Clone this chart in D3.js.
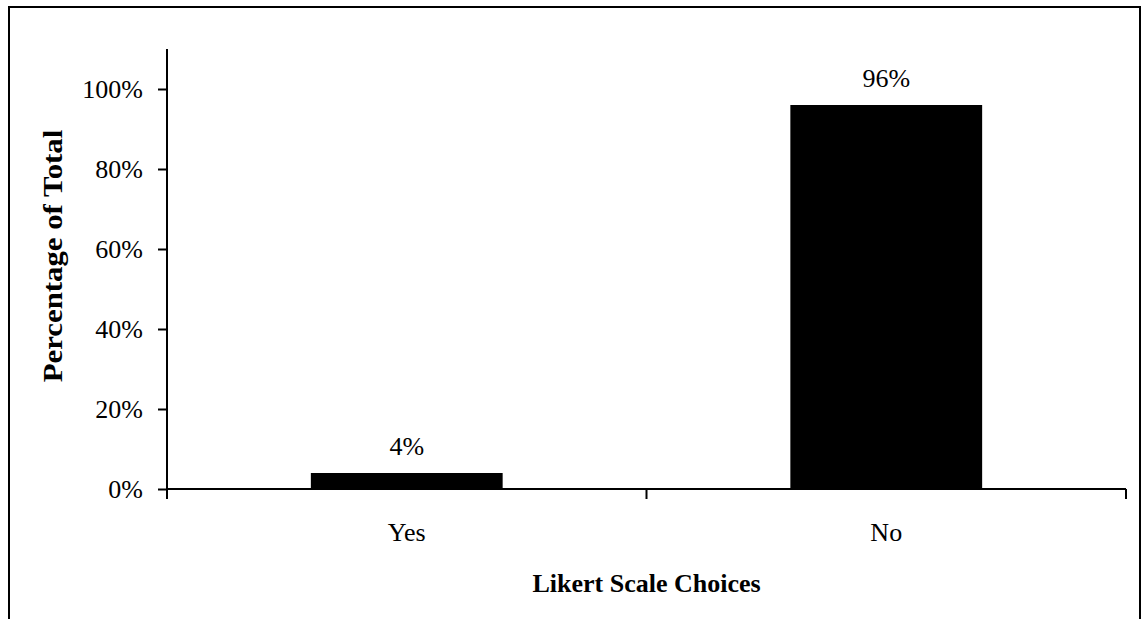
<!DOCTYPE html>
<html>
<head>
<meta charset="utf-8">
<script src="https://cdn.jsdelivr.net/npm/d3@7"></script>
<style>
  html, body { margin: 0; padding: 0; background: #fff; }
  svg { display: block; font-family: "Liberation Serif", "Times New Roman", serif; }
</style>
</head>
<body>
<svg id="chart" width="1141" height="619"></svg>
<script>
// Survey responses, share of total
const categories = ["Yes", "No"];
const percentages = [4, 96];
const yTicks = [0, 20, 40, 60, 80, 100];

const svg = d3.select("#chart");
const plot = { left: 167, right: 1126, top: 49, bottom: 489 };

// Outer frame
svg.append("rect")
  .attr("x", 9).attr("y", 7)
  .attr("width", 1131).attr("height", 640)
  .attr("fill", "none").attr("stroke", "#000").attr("stroke-width", 2);

const x = d3.scaleBand()
  .domain(categories)
  .range([plot.left, plot.right])
  .paddingInner(0.6)
  .paddingOuter(0.3);

const y = d3.scaleLinear()
  .domain([0, 110])
  .range([plot.bottom, plot.top]);

// Bars
svg.append("g").selectAll("rect")
  .data(categories)
  .join("rect")
  .attr("x", d => x(d))
  .attr("width", x.bandwidth())
  .attr("y", (d, i) => y(percentages[i]))
  .attr("height", (d, i) => y(0) - y(percentages[i]))
  .attr("fill", "#000");

// Value labels
svg.append("g").selectAll("text")
  .data(categories)
  .join("text")
  .attr("x", d => x(d) + x.bandwidth() / 2)
  .attr("y", (d, i) => y(percentages[i]) - 18)
  .attr("text-anchor", "middle")
  .attr("font-size", 26)
  .attr("fill", "#000")
  .text((d, i) => percentages[i] + "%");

// Y axis
const yAxis = d3.axisLeft(y)
  .tickValues(yTicks)
  .tickFormat(d => d + "%")
  .tickSize(9)
  .tickPadding(15)
  .tickSizeOuter(0);

const gy = svg.append("g")
  .attr("transform", `translate(${plot.left},0)`)
  .call(yAxis);
gy.select(".domain").attr("stroke", "#000").attr("stroke-width", 2)
  .attr("d", `M0,${plot.bottom}V${plot.top}`);
gy.selectAll(".tick line").attr("stroke", "#000").attr("stroke-width", 2);
gy.selectAll(".tick text")
  .attr("font-size", 26)
  .attr("font-family", "Liberation Serif, Times New Roman, serif")
  .attr("fill", "#000");

// X axis: tick marks at category boundaries
const boundaries = [plot.left, (x("Yes") + x.bandwidth() + x("No")) / 2, plot.right];
const gx = svg.append("g");
gx.append("line")
  .attr("x1", plot.left).attr("x2", plot.right)
  .attr("y1", y(0)).attr("y2", y(0))
  .attr("stroke", "#000").attr("stroke-width", 2);
gx.selectAll("line.tk")
  .data(boundaries)
  .join("line")
  .attr("class", "tk")
  .attr("x1", d => d).attr("x2", d => d)
  .attr("y1", y(0)).attr("y2", y(0) + 10)
  .attr("stroke", "#000").attr("stroke-width", 2);
gx.selectAll("text")
  .data(categories)
  .join("text")
  .attr("x", d => x(d) + x.bandwidth() / 2)
  .attr("y", 541)
  .attr("text-anchor", "middle")
  .attr("font-size", 26)
  .attr("fill", "#000")
  .text(d => d);

// Axis titles
svg.append("text")
  .attr("x", (plot.left + plot.right) / 2)
  .attr("y", 592)
  .attr("text-anchor", "middle")
  .attr("font-size", 26)
  .attr("font-weight", "bold")
  .attr("fill", "#000")
  .text("Likert Scale Choices");

svg.append("text")
  .attr("transform", `translate(62,256) rotate(-90) scale(1.1,1)`)
  .attr("text-anchor", "middle")
  .attr("font-size", 28)
  .attr("font-weight", "bold")
  .attr("fill", "#000")
  .text("Percentage of Total");
</script>
</body>
</html>
